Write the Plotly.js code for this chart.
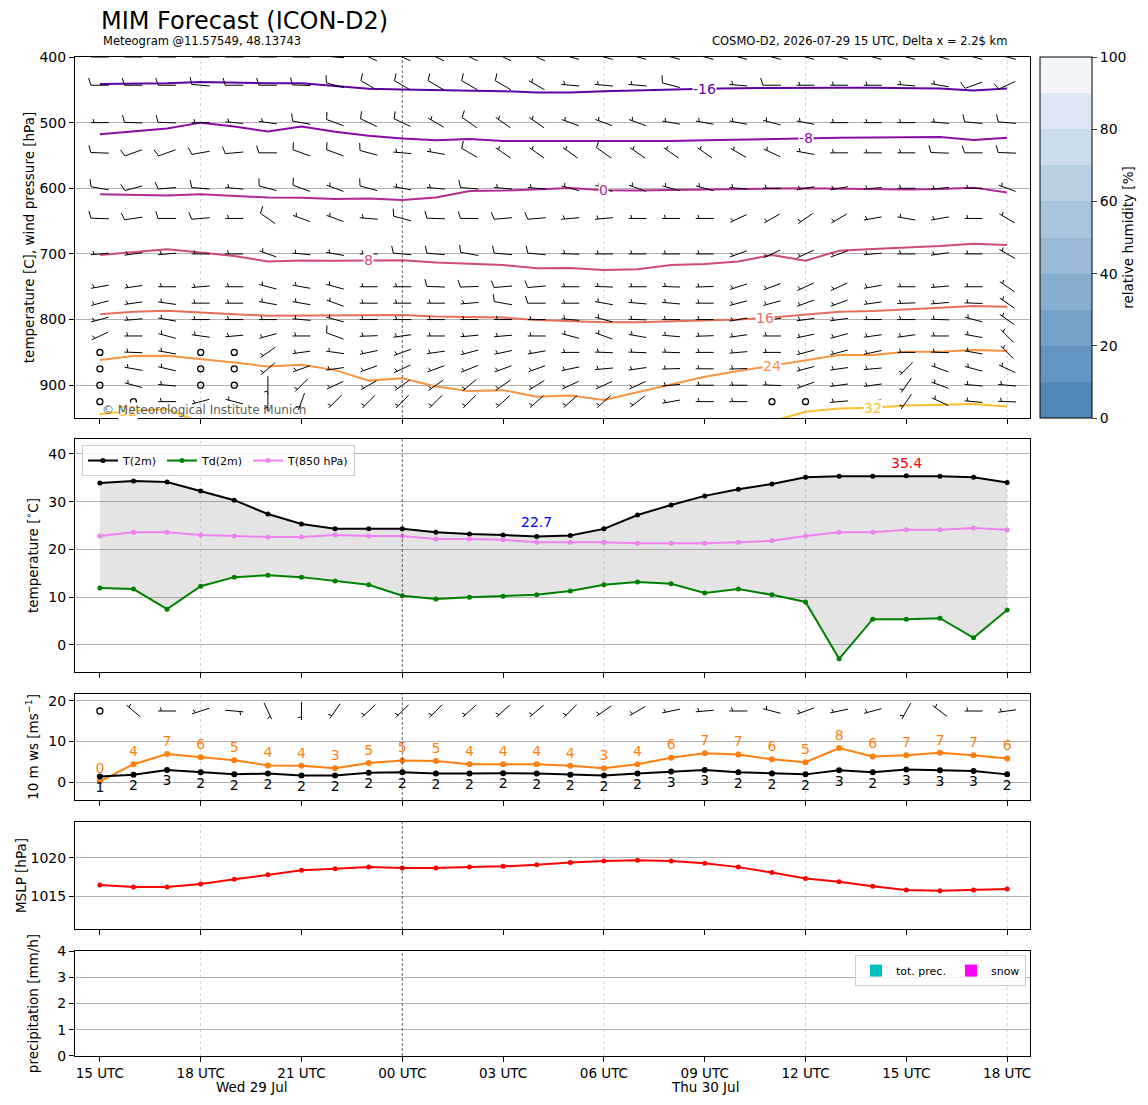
<!DOCTYPE html>
<html><head><meta charset="utf-8">
<script src="https://cdn.plot.ly/plotly-3.0.1.min.js"></script>
<style>body{margin:0;background:#fff}</style>
</head><body><div id="chart" style="width:1148px;height:1105px"></div>
<script>
// ---------------- DATA ----------------
// hours since 2026-07-29 15 UTC
const hours = [0,1,2,3,4,5,6,7,8,9,10,11,12,13,14,15,16,17,18,19,20,21,22,23,24,25,26,27];
const tickHours = [0,3,6,9,12,15,18,21,24,27];
const tickLabels = ['15 UTC','18 UTC','21 UTC','00 UTC','03 UTC','06 UTC','09 UTC','12 UTC','15 UTC','18 UTC'];
const dayLabels = ['Wed 29 Jul','Thu 30 Jul'];
const dayBreak = 9;      // 00 UTC
const majorHours = [3,9,15,21,27]; // 6-hourly grid

// isotherms: pressure [hPa] of each isotherm per hour
const isoLevels = [-16,-8,0,8,16,24,32];
const iso_m16 = [441,440.5,440,438,439.5,440,440,444,448.5,449.5,450,451,452,454,454,452,450.5,449.5,448.5,447.5,447,447,447,447,447,448,451,448];
const iso_m8  = [517.5,513,509,500,506,513.5,506,514,520,524,527,525,528,528,528,529,528.5,528,527,526,524,523,523,522.5,522.5,522,526.5,523];
const iso_0   = [609,610,611,609,611.5,614,614.5,616.5,615.5,618,614,604,603.5,601.5,599.5,603,603.5,602.5,601.5,601,600.5,600,600.5,601.5,602,601,599,606.5];
const iso_8   = [701.5,697,693,698,703,711.5,710,710.5,710,709.5,713,715,717,722,721.5,724.5,723.5,717,715.5,711.5,701.5,710.5,695,692.5,690.5,688,684.5,686.5];
const iso_16  = [792,788,786.5,789.5,792,794,793.5,793,793,793,795.5,796.5,797,800.5,802,804,804,803,802,800,797,793,788,787,784,782,779.5,780.5];
const iso_24  = [861.5,855.5,855,860,865.5,871.5,869,877,893,889.5,902,909,907.5,917.5,915.5,922.5,911,898.5,887,878.5,870,861.5,854,854,849,849,846.5,848];
const iso_32  = [944,939,936.5,957,null,null,null,null,null,null,null,null,null,null,null,null,null,null,null,null,955,940.5,935.5,934.5,931,930,928.5,932.5];
const isoLabelHours = {'-16':[18], '-8':[21], '0':[15], '8':[8], '16':[19.8], '24':[20], '32':[0.85,23]};

// upper-air wind: levels [hPa], direction [deg], speed [kt]
const windLevels = [400,443,500,546,600,646,700,750,775,800,825,850,875,900,925];
const wd400=[270,270,270,270,270,270,270,275,295,295,295,295,295,295,285,285,285,285,285,285,285,285,285,285,285,285,285,285];
const ws400=[10,10,10,10,10,10,10,10,10,10,10,10,10,10,10,10,10,10,10,10,10,10,10,10,10,10,10,10];
const wd443=[270,270,270,275,270,270,272,285,300,300,300,300,300,300,275,275,275,285,275,275,270,270,270,270,275,280,250,245];
const ws443=[10,10,10,10,10,10,10,10,10,10,10,10,10,5,5,5,5,10,5,5,10,5,5,5,5,5,10,10];
const wd500=[270,272,272,270,275,278,280,290,295,295,300,305,305,305,290,290,290,280,280,280,285,280,270,270,270,275,275,275];
const ws500=[5,10,10,5,5,5,10,10,10,10,5,10,5,5,5,5,5,5,5,5,5,5,5,5,5,5,10,10];
const wd546=[272,250,250,260,265,270,290,290,285,275,280,300,305,305,305,305,305,305,305,300,295,280,270,270,270,272,270,272];
const ws546=[10,10,10,10,10,10,10,10,10,5,5,10,5,5,5,10,5,5,5,5,5,5,5,5,5,10,10,10];
const wd600=[280,255,265,275,275,285,290,290,285,280,275,275,275,275,285,290,290,285,285,275,270,260,260,265,270,265,270,290];
const ws600=[10,10,10,10,5,10,10,5,10,5,5,10,5,5,5,5,5,5,5,5,5,5,5,5,5,5,5,5];
const wd646=[272,262,270,265,270,305,290,290,275,285,272,270,265,265,265,265,270,270,270,245,240,235,240,260,280,260,270,300];
const ws646=[10,10,10,10,5,10,5,5,5,10,10,10,10,10,5,5,5,5,5,5,5,5,5,5,5,5,5,5];
const wd700=[265,262,265,270,270,290,275,280,270,275,275,280,275,275,272,270,270,270,270,250,245,245,250,265,270,262,270,300];
const ws700=[5,5,5,5,5,5,5,5,5,10,10,10,10,10,5,5,5,5,5,5,5,5,5,5,5,5,5,5];
const wd750=[260,262,270,265,270,285,280,285,270,270,272,268,265,265,270,272,270,272,268,252,250,245,245,260,270,265,270,305];
const ws750=[5,5,5,5,5,5,5,5,5,5,10,10,10,10,5,5,5,5,5,5,5,5,5,5,5,5,5,5];
const wd775=[255,262,278,270,270,280,280,290,270,270,270,265,280,270,270,280,275,275,270,255,255,250,250,262,268,265,272,305];
const ws775=[5,5,5,5,5,5,5,5,5,5,5,5,10,10,5,5,5,5,5,5,5,5,5,5,5,5,5,5];
const wd800=[255,265,280,270,270,270,275,285,270,270,270,270,270,270,275,285,272,270,270,260,262,262,262,270,270,272,285,305];
const ws800=[5,5,5,5,5,5,5,5,5,5,5,5,5,5,5,5,5,5,5,5,5,5,5,5,5,5,5,5];
const wd825=[245,270,285,278,265,255,270,290,268,262,270,265,265,270,285,290,280,275,268,262,270,258,255,262,262,270,280,315];
const ws825=[5,5,5,5,5,5,5,10,5,5,5,5,5,5,5,5,5,5,5,5,5,5,5,5,5,5,5,5];
const wd850=[270,272,280,270,270,235,262,278,258,250,262,255,258,260,270,272,272,272,270,265,270,255,255,258,270,272,280,315];
const ws850=[0,5,5,0,0,5,5,5,5,5,5,5,5,5,5,5,5,5,5,5,5,5,5,5,5,5,5,5];
const wd875=[270,280,283,270,270,230,250,262,250,245,250,248,250,250,258,265,262,268,270,268,265,255,262,265,225,290,285,295];
const ws875=[0,5,5,0,0,5,5,5,5,5,5,5,5,5,5,5,5,5,5,5,5,5,5,5,5,5,5,5];
const wd900=[270,285,275,270,270,180,225,245,240,235,235,230,235,238,245,245,245,265,270,270,272,250,262,262,215,290,275,275];
const ws900=[0,5,5,0,0,5,5,5,5,5,5,5,5,5,5,5,5,5,5,5,5,5,5,5,5,5,5,5];
const wd925=[270,270,270,255,285,180,200,225,225,225,225,225,228,228,228,228,232,260,270,270,270,270,265,255,215,295,275,272];
const ws925=[0,0,5,5,5,5,5,5,5,5,5,5,5,5,5,5,5,5,5,5,0,0,5,5,5,5,5,5];
const windDir = [wd400,wd443,wd500,wd546,wd600,wd646,wd700,wd750,wd775,wd800,wd825,wd850,wd875,wd900,wd925];
const windSpd = [ws400,ws443,ws500,ws546,ws600,ws646,ws700,ws750,ws775,ws800,ws825,ws850,ws875,ws900,ws925];

// 2 m temperatures [°C]
const t2m  = [33.9,34.3,34.1,32.2,30.3,27.4,25.3,24.3,24.3,24.3,23.6,23.2,23.0,22.7,22.9,24.3,27.2,29.3,31.2,32.6,33.7,35.1,35.3,35.3,35.4,35.3,35.1,34.0];
const td2m = [11.9,11.7,7.5,12.3,14.2,14.6,14.2,13.4,12.6,10.3,9.6,10.0,10.2,10.5,11.3,12.6,13.2,12.8,10.9,11.7,10.5,9.0,-2.9,5.4,5.4,5.6,1.5,7.3];
const t850 = [22.8,23.6,23.6,23.0,22.8,22.6,22.6,23.0,22.8,22.8,22.2,22.2,22.0,21.5,21.5,21.5,21.3,21.3,21.3,21.5,21.8,22.8,23.6,23.6,24.1,24.1,24.5,24.1];

// 10 m wind [m/s]
const gust10 = [0.2,4.4,6.9,6.1,5.4,4.1,4.0,3.4,4.7,5.3,5.2,4.4,4.4,4.4,4.0,3.4,4.4,6.0,7.1,6.8,5.6,4.9,8.4,6.3,6.6,7.2,6.6,5.8];
const ws10   = [1.4,1.8,3.0,2.4,1.9,2.1,1.6,1.6,2.3,2.4,2.1,2.1,2.2,2.1,1.8,1.6,2.1,2.6,3.0,2.4,2.1,1.9,2.9,2.4,3.1,2.9,2.7,1.9];
const barb10Dir = [270,310,270,252,95,155,180,215,227,225,225,228,228,230,225,235,240,258,265,270,285,250,258,255,209,307,270,262];
const barb10Spd = [0,5,5,5,5,5,5,5,5,5,5,5,5,5,5,5,5,5,5,5,5,5,5,5,5,5,5,5];
const barb10Level = 17.5;

// mean sea level pressure [hPa]
const mslp = [1016.45,1016.2,1016.2,1016.6,1017.2,1017.8,1018.4,1018.6,1018.8,1018.7,1018.7,1018.8,1018.9,1019.1,1019.4,1019.6,1019.7,1019.6,1019.3,1018.8,1018.1,1017.3,1016.9,1016.3,1015.8,1015.7,1015.8,1015.95];

// precipitation [mm/h]
const totPrec = [0,0,0,0,0,0,0,0,0,0,0,0,0,0,0,0,0,0,0,0,0,0,0,0,0,0,0,0];
const snow    = [0,0,0,0,0,0,0,0,0,0,0,0,0,0,0,0,0,0,0,0,0,0,0,0,0,0,0,0];

// relative humidity colour bands
const rhTicks = [0,20,40,60,80,100];
const rhBandColors = ['#5287ba','#6394c2','#76a1c9','#88aecf','#99bad6','#a9c5dd','#b9d1e5','#cbdcec','#dde8f3','#f2f6fb'];

// ---------------- STYLE ----------------
const isoColors = ['#5e01a5','#8a0ba5','#b12a90','#cf4b75','#e66e5b','#f79341','#fcbe2c'];
const FONT = 'DejaVu Sans, Liberation Sans, sans-serif';
const XR = [-0.74, 27.68];

const traces = [];
const shapes = [];
const annotations = [];

// --- panel 1: isotherms
const isoArrays = [iso_m16, iso_m8, iso_0, iso_8, iso_16, iso_24, iso_32];
function interp(arr, h){
  const i = Math.floor(h), f = h - i;
  if (f === 0 || arr[i+1] == null) return arr[i];
  return arr[i] + f*(arr[i+1]-arr[i]);
}
isoArrays.forEach((arr, k) => {
  traces.push({x:hours, y:arr, xaxis:'x', yaxis:'y', type:'scatter', mode:'lines',
    line:{color:isoColors[k], width:2}, showlegend:false, hoverinfo:'skip', connectgaps:false});
  (isoLabelHours[String(isoLevels[k])]||[]).forEach(h => {
    annotations.push({x:h, y:interp(arr,h), xref:'x', yref:'y', text:String(isoLevels[k]), showarrow:false,
      font:{family:FONT, size:14, color:isoColors[k]}, bgcolor:'white', borderpad:0});
  });
});

// barbs
function barbPath(spd, dir, L){
  const fh=0.4*L, fw=0.25*L, sp=0.125*L;
  const r=dir*Math.PI/180;
  const tx=Math.sin(r), ty=Math.cos(r);     // toward where wind comes from (y up)
  const bx=Math.cos(r), by=-Math.sin(r);    // barb side
  const P=(a,c)=>(a*tx+c*bx).toFixed(2)+','+(a*ty+c*by).toFixed(2);
  let s=Math.round(spd/5)*5;
  const nf=Math.floor(s/50); s-=nf*50;
  const nb=Math.floor(s/10); s-=nb*10;
  const half=s>=5;
  let d='M'+P(-L/2,0)+' L'+P(L/2,0);
  let off=0;
  for(let i=0;i<nf;i++){ if(off>0) off+=sp/2; d+=' M'+P(L/2-off,0)+' L'+P(L/2-off-fw/2,fh)+' L'+P(L/2-off-fw,0)+' Z'; off+=fw+sp; }
  for(let i=0;i<nb;i++){ d+=' M'+P(L/2-off,0)+' L'+P(L/2-off+fw/2,fh); off+=sp; }
  if(half){ if(off===0) off=1.5*sp; d+=' M'+P(L/2-off,0)+' L'+P(L/2-off+fw/4,fh/2); }
  return d;
}
function addBarbs(xs, ys, dirs, spds, xr, yr, calm){
  xs.forEach((x,i)=>{
    const s = Math.round(spds[i]/5)*5;
    if (s === 0){ calm.x.push(x); calm.y.push(ys[i]); return; }
    shapes.push({type:'path', xref:xr, yref:yr, xsizemode:'pixel', ysizemode:'pixel',
      xanchor:x, yanchor:ys[i], path:barbPath(spds[i], dirs[i], 18),
      line:{color:'black', width:1}, fillcolor:'black', layer:'above'});
  });
}
const calm1 = {x:[], y:[]};
windLevels.forEach((p, k) => {
  addBarbs(hours, hours.map(()=>p), windDir[k], windSpd[k], 'x', 'y', calm1);
});
traces.push({x:calm1.x, y:calm1.y, xaxis:'x', yaxis:'y', type:'scatter', mode:'markers',
  marker:{symbol:'circle-open', size:6, color:'black', line:{width:1.3, color:'black'}}, showlegend:false, hoverinfo:'skip'});

// colorbar carrier
const cs = [];
rhBandColors.forEach((c,i)=>{ cs.push([i/10, c]); cs.push([(i+1)/10, c]); });
traces.push({x:[-10], y:[700], xaxis:'x', yaxis:'y', type:'scatter', mode:'markers', showlegend:false, hoverinfo:'skip',
  marker:{size:1, opacity:0, color:[50], cmin:0, cmax:100, colorscale:cs, showscale:true,
    colorbar:{x:1.0105, xanchor:'left', xpad:0, y:1, yanchor:'top', ypad:0, len:0.3614, lenmode:'fraction',
      thickness:52, thicknessmode:'pixels', outlinecolor:'black', outlinewidth:1, ticks:'outside', ticklen:5,
      tickvals:rhTicks, tickfont:{family:FONT, size:14}, title:{text:'relative humidity [%]', side:'right', font:{family:FONT, size:13.5}}}}});

// --- panel 2
traces.push({x:hours, y:td2m, xaxis:'x2', yaxis:'y2', type:'scatter', mode:'lines', line:{width:0, color:'rgba(0,0,0,0)'}, showlegend:false, hoverinfo:'skip'});
traces.push({x:hours, y:t2m, xaxis:'x2', yaxis:'y2', type:'scatter', mode:'lines', line:{width:0, color:'rgba(0,0,0,0)'}, fill:'tonexty', fillcolor:'rgba(128,128,128,0.21)', showlegend:false, hoverinfo:'skip'});
traces.push({x:hours, y:t2m, xaxis:'x2', yaxis:'y2', type:'scatter', mode:'lines+markers', name:'T(2m)', legend:'legend',
  line:{color:'black', width:2}, marker:{color:'black', size:5}});
traces.push({x:hours, y:td2m, xaxis:'x2', yaxis:'y2', type:'scatter', mode:'lines+markers', name:'Td(2m)', legend:'legend',
  line:{color:'green', width:2}, marker:{color:'green', size:5}});
traces.push({x:hours, y:t850, xaxis:'x2', yaxis:'y2', type:'scatter', mode:'lines+markers', name:'T(850 hPa)', legend:'legend',
  line:{color:'violet', width:2}, marker:{color:'violet', size:5}});
const iMax = t2m.indexOf(Math.max(...t2m));
const iMin = t2m.indexOf(Math.min(...t2m));
annotations.push({x:hours[iMax], y:t2m[iMax], xref:'x2', yref:'y2', text:t2m[iMax].toFixed(1), showarrow:false, yshift:13, font:{family:FONT, size:14, color:'red'}});
annotations.push({x:hours[iMin], y:t2m[iMin], xref:'x2', yref:'y2', text:t2m[iMin].toFixed(1), showarrow:false, yshift:15, font:{family:FONT, size:14, color:'blue'}});

// --- panel 3
traces.push({x:hours, y:gust10, xaxis:'x3', yaxis:'y3', type:'scatter', mode:'lines+markers+text', showlegend:false,
  text:gust10.map(v=>String(Math.round(v))), textposition:'top center', textfont:{family:FONT, size:14, color:'#ff7f0e'},
  line:{color:'#ff7f0e', width:2}, marker:{color:'#ff7f0e', size:6}, cliponaxis:false});
traces.push({x:hours, y:ws10, xaxis:'x3', yaxis:'y3', type:'scatter', mode:'lines+markers+text', showlegend:false,
  text:ws10.map(v=>String(Math.round(v))), textposition:'bottom center', textfont:{family:FONT, size:14, color:'black'},
  line:{color:'black', width:2}, marker:{color:'black', size:6}, cliponaxis:false});
const calm3 = {x:[], y:[]};
addBarbs(hours, hours.map(()=>barb10Level), barb10Dir, barb10Spd, 'x3', 'y3', calm3);
traces.push({x:calm3.x, y:calm3.y, xaxis:'x3', yaxis:'y3', type:'scatter', mode:'markers',
  marker:{symbol:'circle-open', size:6, color:'black', line:{width:1.3, color:'black'}}, showlegend:false, hoverinfo:'skip'});

// --- panel 4
traces.push({x:hours, y:mslp, xaxis:'x4', yaxis:'y4', type:'scatter', mode:'lines+markers', showlegend:false,
  line:{color:'red', width:2}, marker:{color:'red', size:5}});

// --- panel 5
traces.push({x:hours, y:totPrec, xaxis:'x5', yaxis:'y5', type:'bar', name:'tot. prec.', legend:'legend2', marker:{color:'#00bfbf'}});
traces.push({x:hours, y:snow, xaxis:'x5', yaxis:'y5', type:'bar', name:'snow', legend:'legend2', marker:{color:'magenta'}});

// vertical grid + 00 UTC line
['x','x2','x3','x4','x5'].forEach((xr,k)=>{
  const yr = 'y'+(k===0?'':(k+1));
  majorHours.forEach(h=>{
    if (h === dayBreak) return;
    shapes.push({type:'line', xref:xr, yref:yr+' domain', x0:h, x1:h, y0:0, y1:1, line:{color:'#c8c8c8', width:0.8, dash:'dot'}, layer:'below'});
  });
  shapes.push({type:'line', xref:xr, yref:yr+' domain', x0:dayBreak, x1:dayBreak, y0:0, y1:1, line:{color:'#222', width:0.7, dash:'3px,2px'}, layer:'above'});
});

// titles / texts
annotations.push({xref:'paper', yref:'paper', x:0.0251, y:1.036, xanchor:'left', yanchor:'middle', showarrow:false,
  text:'MIM Forecast (ICON-D2)', font:{family:FONT, size:24, color:'black'}});
annotations.push({xref:'paper', yref:'paper', x:0.0272, y:1.016, xanchor:'left', yanchor:'middle', showarrow:false,
  text:'Meteogram @11.57549, 48.13743', font:{family:FONT, size:11.5, color:'black'}});
annotations.push({xref:'paper', yref:'paper', x:0.978, y:1.016, xanchor:'right', yanchor:'middle', showarrow:false,
  text:'COSMO-D2, 2026-07-29 15 UTC, Delta x = 2.2$ km', font:{family:FONT, size:11.5, color:'black'}});
annotations.push({xref:'x5', yref:'paper', x:dayBreak/2, y:-0.031, yanchor:'middle', showarrow:false, text:dayLabels[0], font:{family:FONT, size:13.5}});
annotations.push({xref:'x5', yref:'paper', x:(dayBreak+hours[hours.length-1])/2, y:-0.031, yanchor:'middle', showarrow:false, text:dayLabels[1], font:{family:FONT, size:13.5}});
annotations.push({xref:'paper', yref:'paper', x:0.0262, y:0.6466, xanchor:'left', yanchor:'middle', showarrow:false,
  text:'© Meteorological Institute Munich', font:{family:FONT, size:12, color:'rgba(70,70,70,0.9)'}});

// axes
const xBase = {range:XR, autorange:false, tickvals:tickHours, ticktext:tickLabels, ticks:'outside', ticklen:5, tickcolor:'black',
  showgrid:false, zeroline:false, showline:true, mirror:true, linecolor:'black', linewidth:1, tickfont:{family:FONT, size:13.5}, domain:[0,1]};
const yBase = {ticks:'outside', ticklen:5, tickcolor:'black', showgrid:true, gridcolor:'#b0b0b0', gridwidth:1, zeroline:false,
  showline:true, mirror:true, linecolor:'black', linewidth:1, tickfont:{family:FONT, size:14}, autorange:false};
const ttl = t => ({text:t, font:{family:FONT, size:13.5}});

const layout = {
  width:1148, height:1105, margin:{l:75, r:118, t:57, b:49},
  paper_bgcolor:'white', plot_bgcolor:'white',
  font:{family:FONT, size:13.5, color:'black'},
  showlegend:true, hovermode:false, bargap:0.2,
  legend:{x:0.0073, y:0.6116, xanchor:'left', yanchor:'top', orientation:'h', traceorder:'normal', bgcolor:'rgba(255,255,255,0.85)',
    bordercolor:'#cccccc', borderwidth:1, font:{family:FONT, size:11}, itemwidth:30},
  legend2:{x:0.9958, y:0.101, xanchor:'right', yanchor:'top', orientation:'h', traceorder:'normal', bgcolor:'rgba(255,255,255,0.85)',
    bordercolor:'#cccccc', borderwidth:1, font:{family:FONT, size:11}, itemwidth:30},
  xaxis: Object.assign({}, xBase, {anchor:'y', showticklabels:false}),
  xaxis2:Object.assign({}, xBase, {anchor:'y2', showticklabels:false}),
  xaxis3:Object.assign({}, xBase, {anchor:'y3', showticklabels:false}),
  xaxis4:Object.assign({}, xBase, {anchor:'y4', showticklabels:false}),
  xaxis5:Object.assign({}, xBase, {anchor:'y5', showticklabels:true}),
  yaxis: Object.assign({}, yBase, {anchor:'x', domain:[0.6386,1], range:[950,400], tickvals:[400,500,600,700,800,900], title:ttl('temperature [C], wind pressure [hPa]')}),
  yaxis2:Object.assign({}, yBase, {anchor:'x2', domain:[0.3844,0.6176], range:[-5.65,43.1], tickvals:[0,10,20,30,40], title:ttl('temperature [<sup>∘</sup>C]')}),
  yaxis3:Object.assign({}, yBase, {anchor:'x3', domain:[0.2563,0.3624], range:[-4.4,21.7], tickvals:[0,10,20], title:ttl('10 m ws [ms<sup>−1</sup>]')}),
  yaxis4:Object.assign({}, yBase, {anchor:'x4', domain:[0.1271,0.2342], range:[1010.7,1024.7], tickvals:[1015,1020], title:ttl('MSLP [hPa]')}),
  yaxis5:Object.assign({}, yBase, {anchor:'x5', domain:[0,0.1051], range:[0,4], tickvals:[0,1,2,3,4], title:ttl('precipitation [mm/h]')}),
  shapes:shapes, annotations:annotations
};

Plotly.newPlot('chart', traces, layout, {staticPlot:true, displayModeBar:false});
</script></body></html>
